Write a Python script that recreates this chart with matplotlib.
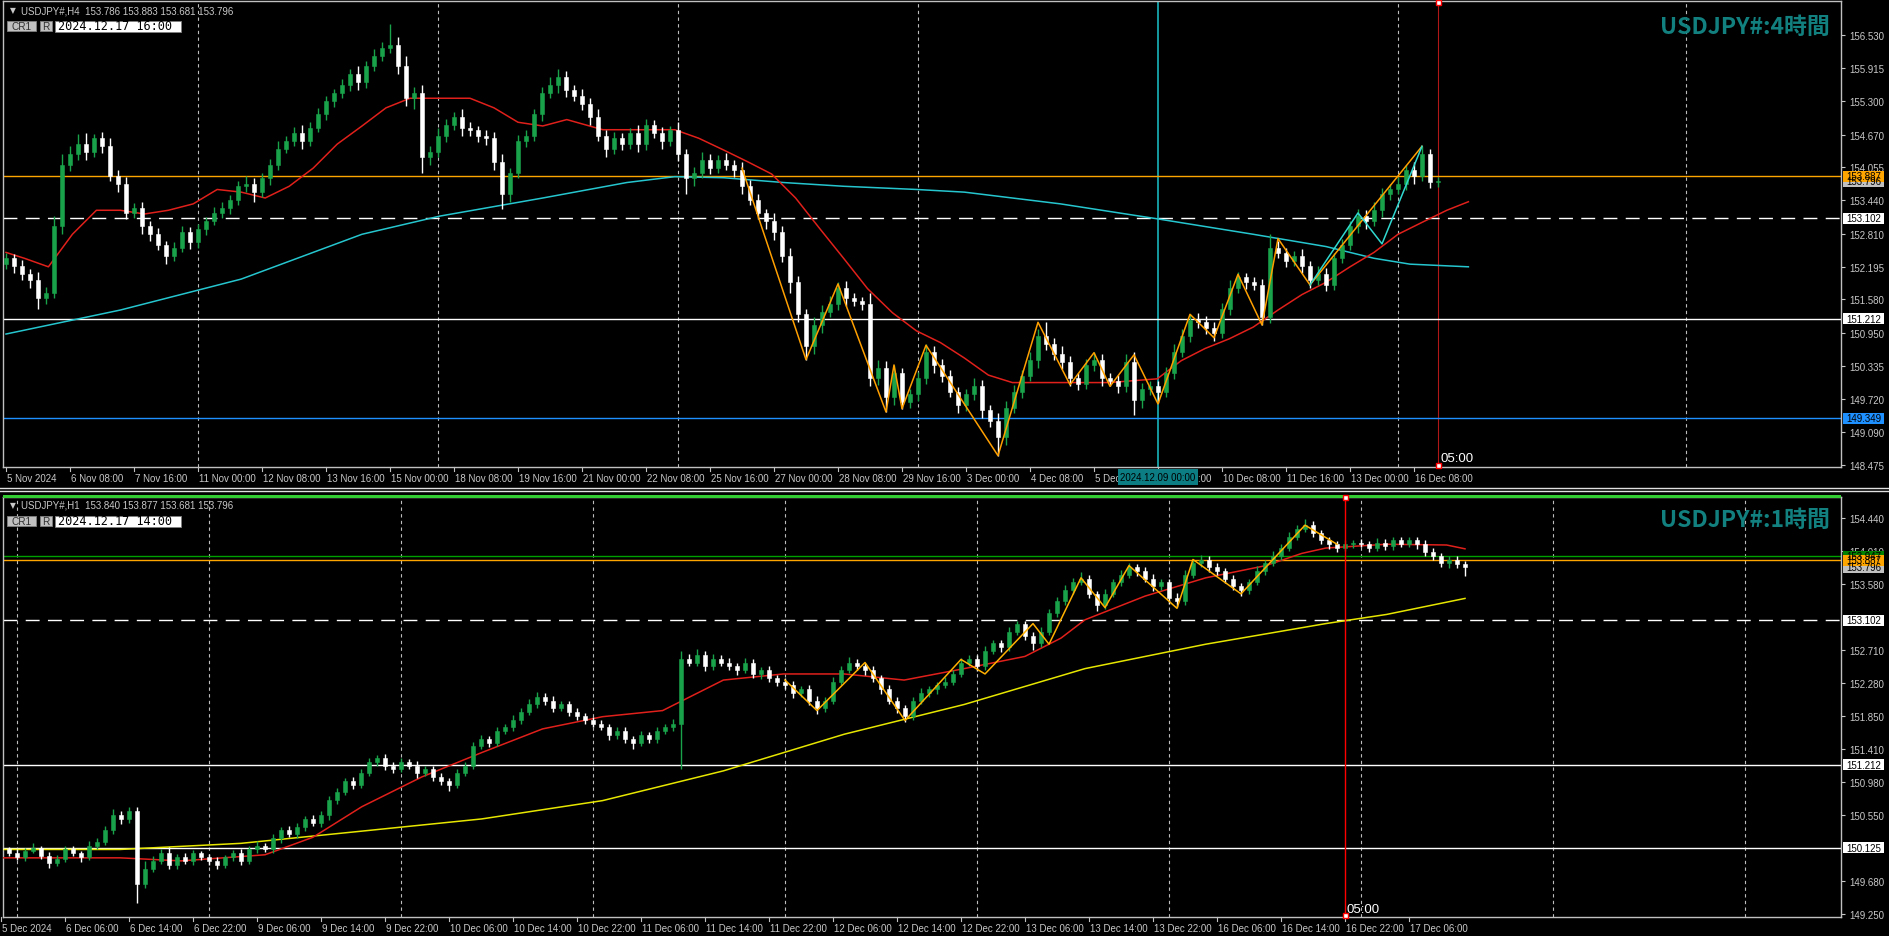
import matplotlib
matplotlib.use('Agg')
import matplotlib.pyplot as plt
from matplotlib.patches import Rectangle
from matplotlib.lines import Line2D
from matplotlib import font_manager
import numpy as np

names = {f.name for f in font_manager.fontManager.ttflist}
NARROW = 'Liberation Sans Narrow' if 'Liberation Sans Narrow' in names else 'Liberation Sans'
NFS = 8.2 if NARROW == 'Liberation Sans Narrow' else 7.0
plt.rcParams['font.family'] = [NARROW, 'DejaVu Sans']

# ---------------- DATA: H4 panel ----------------
h4_open0 = 152.25
h4_close = [
    152.35, 152.20, 152.05, 151.95, 151.60, 151.70,   # 5 Nov
    152.95, 154.10, 154.30, 154.50, 154.35, 154.60,   # 6 Nov
    154.45, 153.90, 153.75, 153.20, 153.30, 152.95,   # 7 Nov
    152.80, 152.60, 152.40, 152.55, 152.85, 152.65,   # 8 Nov
    152.90, 153.05, 153.20, 153.30, 153.45, 153.70,   # 11 Nov
    153.75, 153.60, 153.85, 154.10, 154.40, 154.55,   # 12 Nov
    154.70, 154.55, 154.80, 155.05, 155.30, 155.45,   # 13 Nov
    155.60, 155.80, 155.65, 155.95, 156.15, 156.30,   # 14 Nov
    156.35, 155.95, 155.35, 155.45, 154.25, 154.35,   # 15 Nov
    154.65, 154.85, 155.00, 154.80, 154.75, 154.65,   # 18 Nov
    154.60, 154.15, 153.55, 153.95, 154.55, 154.65,   # 19 Nov
    155.05, 155.45, 155.60, 155.75, 155.50, 155.40,   # 20 Nov
    155.25, 155.00, 154.65, 154.40, 154.60, 154.50,   # 21 Nov
    154.70, 154.50, 154.85, 154.70, 154.55, 154.75,   # 22 Nov
    154.30, 153.85, 153.95, 154.20, 154.05, 154.20,   # 25 Nov
    154.10, 154.00, 153.70, 153.45, 153.20, 153.05,   # 26 Nov
    152.85, 152.40, 151.90, 151.30, 150.70, 151.10,   # 27 Nov
    151.35, 151.50, 151.80, 151.60, 151.55, 151.50,   # 28 Nov
    150.10, 150.30, 149.75, 150.20, 149.65, 149.80,   # 29 Nov
    150.10, 150.60, 150.35, 150.15, 149.85, 149.60,   # 2 Dec
    149.80, 149.95, 149.50, 149.30, 149.00, 149.55,   # 3 Dec
    149.85, 150.15, 150.45, 150.90, 150.75, 150.55,   # 4 Dec
    150.40, 150.10, 150.00, 150.35, 150.45, 150.10,   # 5 Dec
    150.05, 149.95, 150.40, 149.70, 149.90, 149.95,   # 6 Dec
    149.85, 150.20, 150.60, 150.90, 151.20, 151.15,   # 9 Dec
    151.05, 150.95, 151.40, 151.80, 152.00, 151.90,   # 10 Dec
    151.85, 151.25, 152.55, 152.45, 152.30, 152.40,   # 11 Dec
    152.20, 151.95, 152.05, 151.85, 152.35, 152.60,   # 12 Dec
    152.95, 153.15, 153.05, 153.25, 153.55, 153.65,   # 13 Dec
    153.75, 154.00, 153.90, 154.30, 153.786, 153.796, # 16-17 Dec
]
h4_upwick = [
    0.10,0.08,0.12,0.10,0.15,0.12, 0.20,0.20,0.15,0.18,0.20,0.08,
    0.12,0.15,0.10,0.12,0.08,0.10, 0.10,0.12,0.08,0.10,0.10,0.08,
    0.10,0.08,0.12,0.10,0.08,0.10, 0.15,0.10,0.10,0.12,0.15,0.10,
    0.12,0.15,0.10,0.12,0.10,0.08, 0.12,0.10,0.15,0.10,0.12,0.10,
    0.40,0.15,0.20,0.12,0.15,0.10, 0.15,0.12,0.10,0.15,0.10,0.08,
    0.10,0.12,0.15,0.10,0.12,0.10, 0.10,0.12,0.15,0.15,0.12,0.10,
    0.12,0.10,0.15,0.10,0.12,0.10, 0.10,0.15,0.12,0.10,0.12,0.08,
    0.15,0.10,0.12,0.15,0.10,0.08, 0.12,0.10,0.15,0.12,0.10,0.08,
    0.15,0.10,0.15,0.12,0.10,0.15, 0.12,0.15,0.10,0.12,0.10,0.08,
    0.20,0.15,0.12,0.15,0.10,0.10, 0.12,0.15,0.10,0.12,0.10,0.08,
    0.10,0.15,0.12,0.10,0.15,0.12, 0.12,0.10,0.15,0.12,0.25,0.10,
    0.15,0.12,0.10,0.12,0.15,0.10, 0.10,0.12,0.15,0.20,0.12,0.10,
    0.10,0.12,0.15,0.12,0.10,0.12, 0.12,0.10,0.12,0.15,0.10,0.08,
    0.10,0.12,0.25,0.12,0.10,0.08, 0.12,0.10,0.15,0.12,0.10,0.12,
    0.10,0.12,0.10,0.15,0.12,0.10, 0.12,0.10,0.15,0.15,0.10,0.087,
]
h4_dnwick = [
    0.10,0.12,0.10,0.15,0.20,0.10, 0.10,0.15,0.12,0.10,0.15,0.10,
    0.12,0.10,0.15,0.12,0.10,0.15, 0.12,0.10,0.15,0.10,0.08,0.12,
    0.10,0.12,0.08,0.10,0.12,0.10, 0.10,0.20,0.10,0.12,0.10,0.08,
    0.10,0.15,0.10,0.08,0.10,0.12, 0.10,0.12,0.15,0.10,0.08,0.10,
    0.10,0.15,0.15,0.20,0.30,0.15, 0.10,0.12,0.10,0.15,0.10,0.12,
    0.12,0.15,0.27,0.15,0.10,0.12, 0.10,0.12,0.10,0.15,0.12,0.10,
    0.12,0.15,0.10,0.15,0.10,0.12, 0.10,0.15,0.12,0.10,0.15,0.10,
    0.12,0.30,0.15,0.10,0.12,0.10, 0.10,0.12,0.15,0.10,0.12,0.15,
    0.15,0.12,0.20,0.15,0.25,0.15, 0.15,0.10,0.12,0.15,0.10,0.12,
    0.15,0.12,0.28,0.15,0.12,0.10, 0.12,0.10,0.15,0.12,0.10,0.15,
    0.12,0.10,0.15,0.12,0.35,0.15, 0.10,0.12,0.10,0.15,0.12,0.10,
    0.12,0.15,0.12,0.10,0.12,0.15, 0.10,0.12,0.10,0.29,0.15,0.12,
    0.22,0.10,0.12,0.10,0.12,0.10, 0.12,0.15,0.10,0.12,0.10,0.12,
    0.10,0.15,0.12,0.10,0.12,0.10, 0.12,0.15,0.10,0.12,0.10,0.08,
    0.10,0.12,0.15,0.10,0.12,0.10, 0.10,0.12,0.15,0.10,0.12,0.105,
]
h4_xlabels = ['5 Nov 2024', '6 Nov 08:00', '7 Nov 16:00', '11 Nov 00:00', '12 Nov 08:00',
              '13 Nov 16:00', '15 Nov 00:00', '18 Nov 08:00', '19 Nov 16:00', '21 Nov 00:00',
              '22 Nov 08:00', '25 Nov 16:00', '27 Nov 00:00', '28 Nov 08:00', '29 Nov 16:00',
              '3 Dec 00:00', '4 Dec 08:00', '5 Dec 16:00', '9 Dec 00:00', '10 Dec 08:00',
              '11 Dec 16:00', '13 Dec 00:00', '16 Dec 08:00']
h4_yticks = [156.530, 155.915, 155.300, 154.670, 154.055, 153.440, 152.810, 152.195,
             151.580, 150.950, 150.335, 149.720, 149.090, 148.475]
h4_ma_red_x = [0, 2.3, 5.3, 8.3, 11.3, 14.3, 17.3, 20.3, 23.4, 26.4, 29.4, 32.4, 35.4, 38.4, 41.4,
               44.5, 47.5, 50.5, 53.5, 58, 61, 64, 67.1, 70.1, 74.6, 79.1, 83.6, 86.6, 89.7, 92.7,
               95.7, 98.7, 101.7, 104.7, 107.7, 110.8, 113.8, 116.8, 119.8, 122.8, 125.8, 131.8,
               137.9, 143.9, 146.9, 149.9, 152.9, 155.9, 159, 162, 165, 168, 171, 174, 177.1,
               180.1, 182.8]
h4_ma_red_y = [152.46, 152.35, 152.19, 152.80, 153.25, 153.25, 153.18, 153.25, 153.37, 153.64,
               153.59, 153.48, 153.70, 154.04, 154.49, 154.83, 155.17, 155.35, 155.35, 155.35,
               155.17, 154.90, 154.83, 154.95, 154.76, 154.76, 154.76, 154.60, 154.38, 154.16,
               153.93, 153.48, 152.91, 152.35, 151.78, 151.33, 150.99, 150.77, 150.48, 150.16,
               150.02, 150.02, 150.02, 150.09, 150.43, 150.66, 150.84, 151.06, 151.38, 151.67,
               151.90, 152.19, 152.46, 152.80, 153.03, 153.25, 153.41]
h4_ma_cyan_x = [0, 14.3, 29.4, 44.5, 54.2, 67.1, 77.6, 83.6, 89.7, 97.2, 104.7, 113.8, 119.8,
                131.8, 143.9, 155.9, 165, 171, 175.5, 182.8]
h4_ma_cyan_y = [150.93, 151.38, 151.96, 152.80, 153.14, 153.48, 153.77, 153.88, 153.86, 153.77,
                153.70, 153.64, 153.59, 153.37, 153.09, 152.80, 152.57, 152.35, 152.24, 152.19]
h4_zz_x = [92, 100, 104, 110, 111, 112, 115, 124, 129, 133, 136, 138, 141, 144, 148, 151, 154,
           157, 159, 163, 177]
h4_zz_y = [154.04, 150.45, 151.87, 149.47, 150.35, 149.53, 150.72, 148.65, 151.15, 149.98, 150.58,
           149.95, 150.54, 149.62, 151.30, 150.86, 152.05, 151.10, 152.72, 151.85, 154.45]
h4_zz2_x = [163, 169, 172, 177]
h4_zz2_y = [151.85, 153.20, 152.62, 154.45]

# ---------------- DATA: H1 panel ----------------
h1_open0 = 150.12
h1_close = [
    150.10, 150.05,                                                   # 5 Dec
    150.00, 150.08, 150.12, 150.02, 149.92, 149.98, 150.10, 150.05,   # 6 Dec
    150.00, 150.15, 150.20, 150.35, 150.55, 150.50, 150.60, 149.65,
    149.85, 149.95, 150.05, 149.90, 150.00, 149.95, 150.05, 150.00,
    149.95, 149.90, 150.00, 150.05, 149.95, 150.10, 150.15, 150.10,   # 9 Dec
    150.25, 150.35, 150.30, 150.40, 150.50, 150.45, 150.55, 150.75,
    150.85, 151.00, 150.95, 151.10, 151.25, 151.30, 151.20, 151.15,
    151.25, 151.20, 151.10, 151.15, 151.05, 151.00, 150.95, 151.10,   # 10 Dec
    151.20, 151.45, 151.55, 151.50, 151.65, 151.70, 151.80, 151.90,
    152.00, 152.10, 152.05, 151.95, 152.00, 151.90, 151.85, 151.80,
    151.75, 151.70, 151.60, 151.65, 151.55, 151.50, 151.60, 151.55,   # 11 Dec
    151.65, 151.70, 151.75, 152.60, 152.55, 152.65, 152.50, 152.60,
    152.55, 152.50, 152.45, 152.55, 152.40, 152.45, 152.35, 152.30,
    152.25, 152.15, 152.20, 152.05, 151.95, 152.05, 152.30, 152.45,   # 12 Dec
    152.55, 152.50, 152.45, 152.35, 152.20, 152.05, 151.95, 151.85,
    152.05, 152.15, 152.20, 152.25, 152.30, 152.40, 152.55, 152.60,
    152.50, 152.70, 152.80, 152.75, 152.95, 153.05, 152.90, 152.80,   # 13 Dec
    152.95, 153.20, 153.35, 153.50, 153.60, 153.65, 153.45, 153.30,
    153.45, 153.60, 153.70, 153.80, 153.75, 153.65, 153.55, 153.60,
    153.40, 153.35, 153.70, 153.85, 153.90, 153.80, 153.75, 153.65,   # 16 Dec
    153.55, 153.50, 153.60, 153.75, 153.85, 153.95, 154.05, 154.20,
    154.30, 154.35, 154.25, 154.15, 154.10, 154.05, 154.10, 154.12,
    154.10, 154.05, 154.12, 154.08, 154.15, 154.10, 154.15,           # 17 Dec
    154.10, 154.00, 153.95, 153.85, 153.90, 153.840, 153.796,
]
h1_upwick = [
    0.04,0.03,
    0.05,0.04,0.06,0.03,0.04,0.05,0.04,0.05, 0.03,0.06,0.05,0.06,0.08,0.05,0.06,0.05,
    0.10,0.06,0.05,0.08,0.04,0.05,0.04,0.03,
    0.04,0.05,0.03,0.04,0.05,0.04,0.06,0.03, 0.05,0.04,0.06,0.05,0.04,0.05,0.06,0.05,
    0.06,0.04,0.05,0.06,0.05,0.04,0.05,0.04,
    0.05,0.04,0.06,0.05,0.04,0.05,0.04,0.06, 0.05,0.06,0.05,0.04,0.06,0.05,0.06,0.05,
    0.07,0.06,0.05,0.06,0.05,0.04,0.05,0.04,
    0.04,0.05,0.04,0.06,0.05,0.04,0.05,0.04, 0.05,0.04,0.06,0.10,0.06,0.08,0.05,0.06,
    0.05,0.06,0.05,0.06,0.05,0.04,0.05,0.04,
    0.05,0.06,0.04,0.05,0.06,0.05,0.06,0.05, 0.07,0.05,0.04,0.05,0.04,0.06,0.05,0.04,
    0.05,0.06,0.04,0.05,0.06,0.05,0.06,0.05,
    0.05,0.06,0.05,0.04,0.06,0.05,0.04,0.05, 0.06,0.05,0.06,0.07,0.06,0.08,0.05,0.04,
    0.06,0.05,0.06,0.05,0.04,0.05,0.06,0.04,
    0.05,0.06,0.06,0.05,0.06,0.04,0.05,0.04, 0.05,0.04,0.05,0.06,0.05,0.06,0.05,0.06,
    0.05,0.08,0.05,0.04,0.05,0.04,0.05,0.04,
    0.05,0.04,0.06,0.05,0.04,0.05,0.05, 0.04,0.05,0.05,0.04,0.05,0.05,0.037,
]
h1_dnwick = [
    0.03,0.04,
    0.04,0.05,0.03,0.05,0.06,0.04,0.05,0.04, 0.06,0.04,0.05,0.04,0.05,0.06,0.05,0.25,
    0.06,0.05,0.04,0.06,0.05,0.04,0.05,0.04,
    0.05,0.06,0.04,0.05,0.06,0.04,0.05,0.04, 0.05,0.06,0.04,0.05,0.06,0.04,0.05,0.06,
    0.05,0.04,0.06,0.05,0.04,0.05,0.06,0.05,
    0.04,0.05,0.06,0.04,0.05,0.06,0.08,0.05, 0.04,0.05,0.04,0.06,0.05,0.04,0.05,0.06,
    0.04,0.05,0.06,0.05,0.04,0.05,0.06,0.05,
    0.05,0.04,0.06,0.05,0.06,0.08,0.05,0.06, 0.05,0.04,0.05,0.60,0.05,0.04,0.06,0.05,
    0.04,0.05,0.06,0.04,0.05,0.06,0.05,0.06,
    0.05,0.06,0.05,0.06,0.08,0.05,0.04,0.05, 0.04,0.05,0.06,0.05,0.06,0.05,0.06,0.08,
    0.05,0.04,0.05,0.06,0.04,0.05,0.04,0.05,
    0.06,0.05,0.04,0.06,0.05,0.04,0.06,0.08, 0.05,0.04,0.05,0.04,0.05,0.04,0.06,0.08,
    0.05,0.04,0.05,0.04,0.06,0.05,0.06,0.05,
    0.08,0.07,0.05,0.04,0.05,0.06,0.05,0.06, 0.05,0.08,0.05,0.04,0.05,0.04,0.05,0.04,
    0.05,0.04,0.06,0.05,0.06,0.05,0.04,0.05,
    0.04,0.05,0.04,0.05,0.06,0.04,0.04, 0.06,0.05,0.06,0.05,0.06,0.05,0.115,
]
h1_xlabels = ['5 Dec 2024', '6 Dec 06:00', '6 Dec 14:00', '6 Dec 22:00', '9 Dec 06:00',
              '9 Dec 14:00', '9 Dec 22:00', '10 Dec 06:00', '10 Dec 14:00', '10 Dec 22:00',
              '11 Dec 06:00', '11 Dec 14:00', '11 Dec 22:00', '12 Dec 06:00', '12 Dec 14:00',
              '12 Dec 22:00', '13 Dec 06:00', '13 Dec 14:00', '13 Dec 22:00', '16 Dec 06:00',
              '16 Dec 14:00', '16 Dec 22:00', '17 Dec 06:00']
h1_yticks = [154.440, 154.010, 153.580, 152.710, 152.280, 151.850, 151.410, 150.980,
             150.550, 149.680, 149.250]
h1_ma_red_x = [0, 14.9, 22.5, 33, 39, 45.1, 52.6, 60.1, 67.7, 75.2, 82.7, 90.3, 97.8, 105.4,
               112.9, 120.4, 128, 132.5, 135.5, 143, 150.6, 158.1, 162.6, 165.6, 173.2, 180.7, 183]
h1_ma_red_y = [149.99, 149.99, 149.95, 150.03, 150.26, 150.66, 151.05, 151.37, 151.68, 151.84,
               151.92, 152.32, 152.40, 152.40, 152.32, 152.47, 152.63, 152.87, 153.11, 153.42,
               153.66, 153.82, 153.98, 154.05, 154.10, 154.09, 154.04]
h1_ma_yel_x = [0, 14.9, 30, 45.1, 60.1, 75.2, 90.3, 105.4, 120.4, 135.5, 150.6, 165.6, 173.2, 183]
h1_ma_yel_y = [150.10, 150.10, 150.18, 150.34, 150.50, 150.74, 151.13, 151.61, 152.00, 152.47,
               152.79, 153.06, 153.18, 153.39]
h1_zz_x = [98, 102, 108, 113, 120, 123, 129, 131, 135, 138, 141, 147, 149, 155, 163, 167]
h1_zz_y = [152.32, 151.92, 152.55, 151.79, 152.59, 152.40, 153.06, 152.79, 153.66, 153.27,
           153.82, 153.26, 153.90, 153.45, 154.35, 154.10]

assert len(h4_close) == len(h4_upwick) == len(h4_dnwick) == 180
assert len(h1_close) == len(h1_upwick) == len(h1_dnwick) == 184

# ---------------- FIGURE ----------------
W, H = 1890, 937
fig = plt.figure(figsize=(W / 100, H / 100), dpi=100, facecolor='black')
LBL = '#c8c8c8'
FRAME = '#c0c0c0'


def px_axes(x0, y0, x1, y1):
    return fig.add_axes([x0 / W, 1 - y1 / H, (x1 - x0) / W, (y1 - y0) / H])


def fx(px):
    return px / W


def fy(py):
    return 1 - py / H


def candles(ax, o0, close, uw, dw):
    c = np.asarray(close, float)
    o = np.concatenate([[o0], c[:-1]])
    x = np.arange(len(c))
    hi = np.maximum(o, c) + np.asarray(uw)
    lo = np.minimum(o, c) - np.asarray(dw)
    cols = np.where(c >= o, '#19a24a', '#ffffff')
    ax.vlines(x, lo, hi, colors=cols, lw=1.0, zorder=4)
    body = np.maximum(np.abs(c - o), 0.006)
    ax.bar(x, body, bottom=np.minimum(o, c), width=0.62, color=cols, edgecolor=cols,
           linewidth=0.4, zorder=5)


def style_axes(ax, yticks):
    ax.set_facecolor('black')
    for s in ax.spines.values():
        s.set_color(FRAME)
        s.set_linewidth(1.0)
    ax.set_xticks([])
    ax.yaxis.tick_right()
    ax.set_yticks(yticks)
    ax.set_yticklabels([f'{v:.3f}' for v in yticks])
    ax.tick_params(axis='y', colors=LBL, length=3, width=0.8, pad=3, labelsize=NFS)


def ybox(ax, price):
    y0, y1 = ax.get_ylim()
    pos = ax.get_position()
    return pos.y0 + (price - y0) / (y1 - y0) * pos.height


def price_box(ax, price, text, fc, tc='black'):
    yc = ybox(ax, price)
    fig.add_artist(Rectangle((fx(1843), yc - 5.5 / H), 41 / W, 11 / H, transform=fig.transFigure,
                             facecolor=fc, edgecolor='none', zorder=5))
    fig.text(fx(1846), yc, text, color=tc, fontsize=NFS, va='center', ha='left', zorder=6)


def header(ytop, tf_text, ohlc, date_text):
    fig.text(fx(10), fy(ytop + 9), '\u25bc', color=LBL, fontsize=5.5, va='center',
             family='DejaVu Sans')
    fig.text(fx(21), fy(ytop + 9), f'USDJPY#,{tf_text}  {ohlc}', color=LBL, fontsize=NFS,
             va='center')
    for (x0, x1, t) in [(7, 36, 'CR1'), (40, 52, 'R')]:
        fig.add_artist(Rectangle((fx(x0), fy(ytop + 30)), (x1 - x0) / W, 10 / H,
                                 transform=fig.transFigure, facecolor='#c0c0c0',
                                 edgecolor='#808080', lw=0.6, zorder=5))
        fig.text(fx((x0 + x1) / 2), fy(ytop + 25), t, color='#303030', fontsize=7.2,
                 ha='center', va='center', zorder=6)
    fig.add_artist(Rectangle((fx(55), fy(ytop + 30.5)), 126 / W, 11 / H, transform=fig.transFigure,
                             facecolor='white', edgecolor='#808080', lw=0.6, zorder=5))
    fig.text(fx(58), fy(ytop + 25), date_text, color='black', fontsize=8.6,
             family='DejaVu Sans Mono', va='center', zorder=6)


def title(yc, text):
    fig.text(fx(1830), fy(yc), text, color='#12807f', fontsize=16.5, fontweight='bold',
             ha='right', va='center', family=['Noto Sans CJK JP', 'DejaVu Sans'])


# ================= TOP PANEL (H4) =================
ax1 = px_axes(3, 2, 1841, 468)
ax1.set_xlim((3 - 6) / 8, (1841 - 6) / 8)
ax1.set_ylim(156.53 - (468 - 36.3) * 0.018746, 156.53 + (36.3 - 2) * 0.018746)
style_axes(ax1, h4_yticks)

for gx in [24, 54, 84, 114, 174, 210]:
    ax1.axvline(gx, color='#bdbdbd', lw=0.8, ls=(0, (3, 3)), zorder=1)
ax1.axvline(144, color='#17a6ac', lw=1.3, zorder=2)
ax1.axvline(179, color='#b01818', lw=0.8, zorder=2)

ax1.axhline(153.887, color='#ffa500', lw=1.0, zorder=2)
ax1.axhline(153.102, color='white', lw=1.0, ls=(0, (10, 6)), zorder=2)
ax1.axhline(151.212, color='white', lw=1.0, zorder=2)
ax1.axhline(149.349, color='#1e90ff', lw=1.0, zorder=2)

ax1.plot(h4_ma_cyan_x, h4_ma_cyan_y, color='#26c6cf', lw=1.1, zorder=3)
ax1.plot(h4_ma_red_x, h4_ma_red_y, color='#e0201b', lw=1.1, zorder=3)
candles(ax1, h4_open0, h4_close, h4_upwick, h4_dnwick)
ax1.plot(h4_zz_x, h4_zz_y, color='#ffa000', lw=1.1, zorder=6)
ax1.plot(h4_zz2_x, h4_zz2_y, color='#30d8d0', lw=1.1, zorder=6)

for k, lab in enumerate(h4_xlabels):
    px = 6 + 64 * k
    fig.add_artist(Line2D([fx(px), fx(px)], [fy(468), fy(472)], transform=fig.transFigure,
                          color=FRAME, lw=0.8))
    fig.text(fx(px + 1), fy(479), lab, color=LBL, fontsize=NFS, ha='left', va='center')

fig.add_artist(Rectangle((fx(1118), fy(486)), 80 / W, 16 / H, transform=fig.transFigure,
                         facecolor='#0b7d83', edgecolor='none', zorder=5))
fig.text(fx(1158), fy(478), '2024.12.09 00:00', color='black', fontsize=NFS, ha='center',
         va='center', zorder=6)

price_box(ax1, 153.796, '153.796', '#c0c0c0')
price_box(ax1, 153.887, '153.887', '#ffa500')
price_box(ax1, 153.102, '153.102', 'white')
price_box(ax1, 151.212, '151.212', 'white')
price_box(ax1, 149.349, '149.349', '#1e90ff')

for yy in (3, 466):
    fig.add_artist(Rectangle((fx(1436), fy(yy + 2.5)), 5 / W, 5 / H, transform=fig.transFigure,
                             facecolor='white', edgecolor='red', lw=1.0, zorder=6))
fig.text(fx(1441), fy(459), '05:00', color='white', fontsize=9.5, va='center', ha='left')

header(2, 'H4', '153.786 153.883 153.681 153.796', '2024.12.17 16:00')
title(27, 'USDJPY#:4時間')

for yy in (488.5, 491.5):
    fig.add_artist(Line2D([0, 1], [fy(yy), fy(yy)], transform=fig.transFigure,
                          color='#e0e0e0', lw=1.0))
fig.add_artist(Rectangle((fx(3), fy(498.5)), 1838 / W, 3 / H, transform=fig.transFigure,
                         facecolor='#33cc33', edgecolor='none', zorder=4))

# ================= BOTTOM PANEL (H1) =================
ax2 = px_axes(3, 498, 1841, 918)
ax2.set_xlim((3 - 1) / 8, (1841 - 1) / 8)
ax2.set_ylim(154.44 - (918 - 519.3) * 0.013106, 154.44 + (519.3 - 498) * 0.013106)
style_axes(ax2, h1_yticks)

for gx in [2, 26, 50, 74, 98, 122, 146, 170, 194, 218]:
    ax2.axvline(gx, color='#bdbdbd', lw=0.8, ls=(0, (3, 3)), zorder=1)
ax2.axvline(168, color='#ff0000', lw=1.0, zorder=7)

ax2.axhline(153.945, color='#00a000', lw=1.0, zorder=2)
ax2.axhline(153.887, color='#ffa500', lw=1.0, zorder=2)
ax2.axhline(153.102, color='white', lw=1.0, ls=(0, (10, 6)), zorder=2)
ax2.axhline(151.212, color='white', lw=1.0, zorder=2)
ax2.axhline(150.125, color='white', lw=1.0, zorder=2)

ax2.plot(h1_ma_yel_x, h1_ma_yel_y, color='#e6e600', lw=1.1, zorder=3)
ax2.plot(h1_ma_red_x, h1_ma_red_y, color='#e0201b', lw=1.1, zorder=3)
candles(ax2, h1_open0, h1_close, h1_upwick, h1_dnwick)
ax2.plot(h1_zz_x, h1_zz_y, color='#ffb000', lw=1.1, zorder=6)

for k, lab in enumerate(h1_xlabels):
    px = 1 + 64 * k
    fig.add_artist(Line2D([fx(px), fx(px)], [fy(918), fy(922)], transform=fig.transFigure,
                          color=FRAME, lw=0.8))
    fig.text(fx(px + 1), fy(929), lab, color=LBL, fontsize=NFS, ha='left', va='center')

price_box(ax2, 153.945, '153.947', '#008000')
price_box(ax2, 153.796, '153.796', '#c0c0c0')
price_box(ax2, 153.887, '153.887', '#ffa500')
price_box(ax2, 153.102, '153.102', 'white')
price_box(ax2, 151.212, '151.212', 'white')
price_box(ax2, 150.125, '150.125', 'white')

for yy in (498, 916):
    fig.add_artist(Rectangle((fx(1342.5), fy(yy + 2.5)), 5 / W, 5 / H, transform=fig.transFigure,
                             facecolor='white', edgecolor='red', lw=1.0, zorder=8))
fig.text(fx(1347), fy(910), '05:00', color='white', fontsize=9.5, va='center', ha='left',
         zorder=8)

header(497, 'H1', '153.840 153.877 153.681 153.796', '2024.12.17 14:00')
title(520, 'USDJPY#:1時間')

fig.savefig('out.png', dpi=100, facecolor='black')
